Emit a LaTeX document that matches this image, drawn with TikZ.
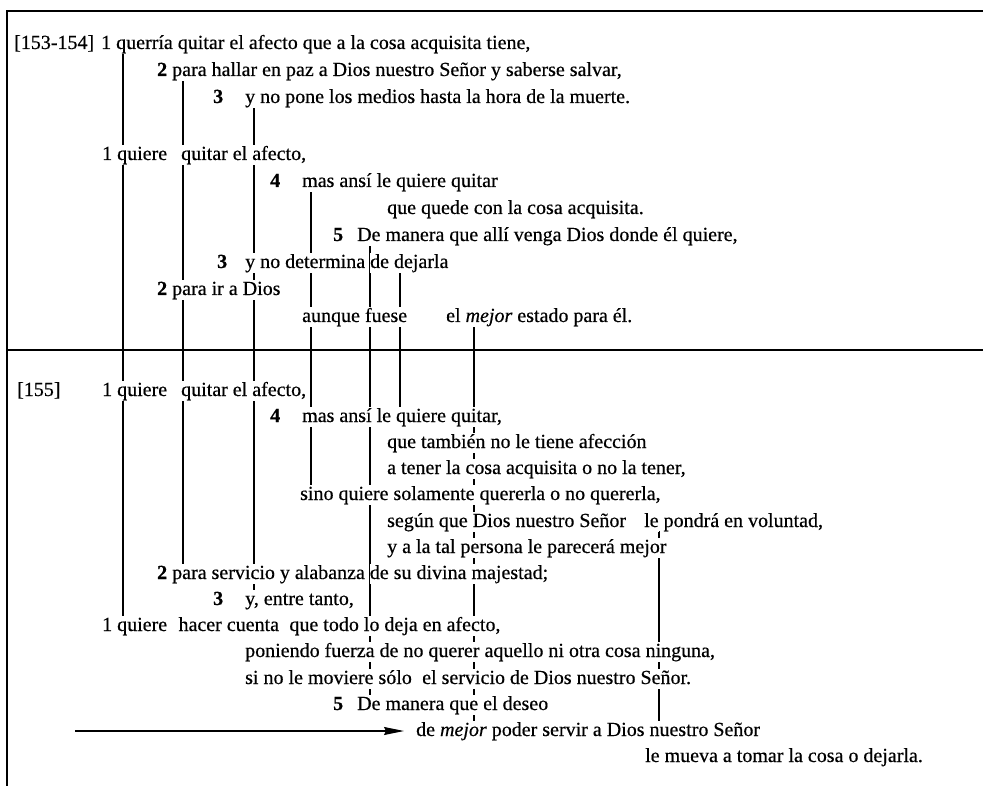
\documentclass[tikz,border=0pt]{standalone}
\usepackage{fontspec}
\setmainfont{Liberation Serif}[FakeBold=0.5]
\usetikzlibrary{arrows.meta,backgrounds}

% every word sits on its own white box, so the guide lines pass behind words
\newcommand\kobox[1]{{\setlength\fboxsep{0pt}\colorbox{white}{\rule[-0.26em]{0pt}{1.0em}#1}}}
\def\kosplit#1 #2\kostop{\kobox{#1}\if\relax\detokenize{#2}\relax\else\ \kosplit#2\kostop\fi}
\newcommand\ko[1]{\kosplit#1 \kostop}

\tikzset{
  txt/.style={anchor=base west, inner sep=0pt, font=\fontsize{20}{24}\selectfont},
  guide/.style={line width=1.2pt, black},
  frame/.style={line width=1.4pt, black},
  lead/.style={line width=1.2pt, black, -{Stealth[length=20pt,width=8pt,inset=2pt]}}
}

\begin{document}
\begin{tikzpicture}[x=1pt,y=-1pt]
\useasboundingbox (0,0) rectangle (983,786);

% ---- text, section [153-154]
\node[txt] (l1a) at (14,49) {\ko{[153-154]}};
\node[txt] (l1b) at (101,49) {\ko{1 querría quitar el afecto que a la cosa acquisita tiene,}};
\node[txt] (l2) at (157,76) {\ko{\textbf{2} para hallar en paz a Dios nuestro Señor y saberse salvar,}};
\node[txt] (l3n) at (213,103) {\ko{\textbf{3}}};
\node[txt] (l3) at (245,103) {\ko{y no pone los medios hasta la hora de la muerte.}};
\node[txt] (l4a) at (102,160) {\ko{1 quiere}};
\node[txt] (l4b) at (181,160) {\ko{quitar el afecto,}};
\node[txt] (l5n) at (270,187) {\ko{\textbf{4}}};
\node[txt] (l5) at (302,187) {\ko{mas ansí le quiere quitar}};
\node[txt] (l6) at (387,214) {\ko{que quede con la cosa acquisita.}};
\node[txt] (l7n) at (333,241) {\ko{\textbf{5}}};
\node[txt] (l7) at (357,241) {\ko{De manera que allí venga Dios donde él quiere,}};
\node[txt] (l8n) at (217,268) {\ko{\textbf{3}}};
\node[txt] (l8) at (245,268) {\ko{y no determina de dejarla}};
\node[txt] (l9) at (157,295) {\ko{\textbf{2} para ir a Dios}};
\node[txt] (l10a) at (302,322) {\ko{aunque fuese}};
\node[txt] (l10b) at (446,322) {\ko{el \textit{mejor} estado para él.}};

% ---- text, section [155]
\node[txt] (l11a) at (17,396) {\ko{[155]}};
\node[txt] (l11b) at (102,396) {\ko{1 quiere}};
\node[txt] (l11c) at (181,396) {\ko{quitar el afecto,}};
\node[txt] (l12n) at (270,422) {\ko{\textbf{4}}};
\node[txt] (l12) at (302,422) {\ko{mas ansí le quiere quitar,}};
\node[txt] (l13) at (387,448) {\ko{que también no le tiene afección}};
\node[txt] (l14) at (387,474) {\ko{a tener la cosa acquisita o no la tener,}};
\node[txt] (l15) at (300,500) {\ko{sino quiere solamente quererla o no quererla,}};
\node[txt] (l16a) at (387,527) {\ko{según que Dios nuestro Señor}};
\node[txt] (l16b) at (644,527) {\ko{le pondrá en voluntad,}};
\node[txt] (l17) at (387,553) {\ko{y a la tal persona le parecerá mejor}};
\node[txt] (l18) at (157,579) {\ko{\textbf{2} para servicio y alabanza de su divina majestad;}};
\node[txt] (l19n) at (213,605) {\ko{\textbf{3}}};
\node[txt] (l19) at (245,605) {\ko{y, entre tanto,}};
\node[txt] (l20a) at (102,631) {\ko{1 quiere}};
\node[txt] (l20b) at ([xshift=11pt]l20a.base east) {\ko{hacer cuenta}};
\node[txt] (l20c) at ([xshift=10pt]l20b.base east) {\ko{que todo lo deja en afecto,}};
\node[txt] (l21) at (245,657) {\ko{poniendo fuerza de no querer aquello ni otra cosa ninguna,}};
\node[txt] (l22a) at (245,684) {\ko{si no le moviere sólo}};
\node[txt] (l22b) at ([xshift=10pt]l22a.base east) {\ko{el servicio de Dios nuestro Señor.}};
\node[txt] (l23n) at (333,710) {\ko{\textbf{5}}};
\node[txt] (l23) at (357,710) {\ko{De manera que el deseo}};
\node[txt] (l24) at (416,736) {\ko{de \textit{mejor} poder servir a Dios nuestro Señor}};
\node[txt] (l25) at (645,762) {\ko{le mueva a tomar la cosa o dejarla.}};

% ---- frame and section rule
\coordinate (tl) at (7,11);  \coordinate (tr) at (983,11);
\coordinate (bl) at (7,786);
\coordinate (ml) at (7,350); \coordinate (mr) at (983,350);

% ---- guide line end points
\coordinate (A0) at (123,52);  \coordinate (A1) at (123,628);
\coordinate (B0) at (183,79);  \coordinate (B1) at (183,576);
\coordinate (C0) at (254,106); \coordinate (C1) at (254,600);
\coordinate (D0) at (311,190); \coordinate (D1) at (311,497);
\coordinate (E0) at (370,244); \coordinate (E1) at (370,706);
\coordinate (F0) at (400,271); \coordinate (F1) at (400,418);
\coordinate (G0) at (474,325); \coordinate (G1) at (474,732);
\coordinate (I0) at (659,531); \coordinate (I1) at (659,732);
\coordinate (arr0) at (75,731);

\begin{scope}[on background layer]
  \draw[frame] (tr) -- (tl) -- (bl);
  \draw[frame] (ml) -- (mr);
  \foreach \g in {A,B,C,D,E,F,G,I} \draw[guide] (\g0) -- (\g1);
  \draw[lead] (arr0) -- ([xshift=-12pt,yshift=5pt]l24.base west);
\end{scope}
\end{tikzpicture}
\end{document}
